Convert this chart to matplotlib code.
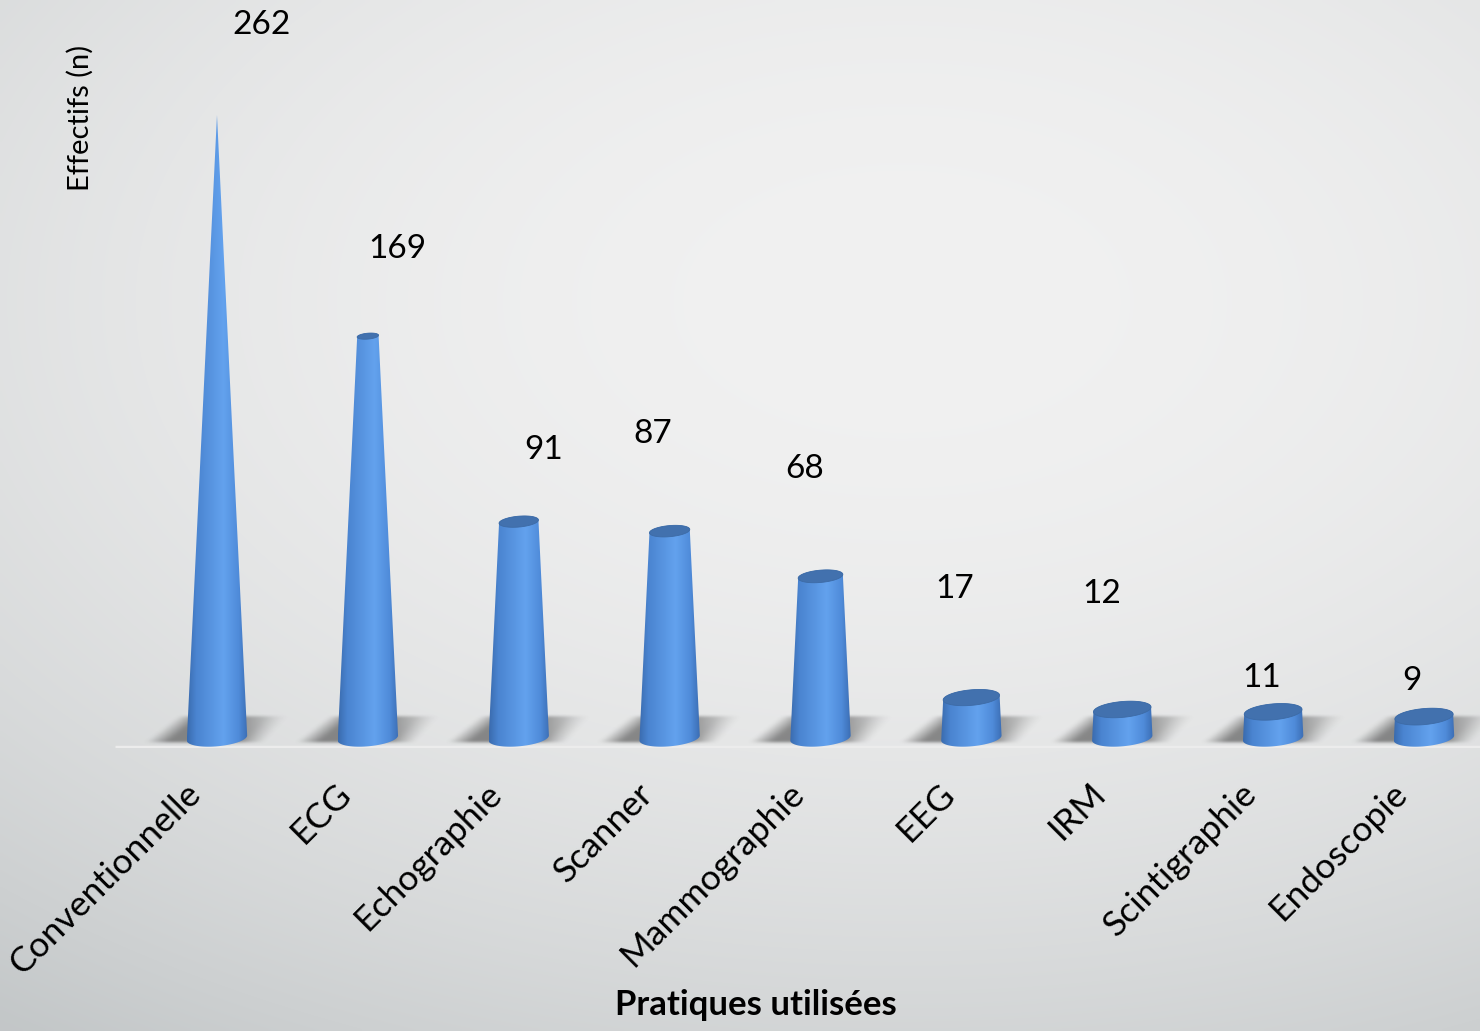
import matplotlib.pyplot as plt
import numpy as np
from matplotlib.colors import LinearSegmentedColormap
from matplotlib.patches import PathPatch, Polygon
from matplotlib.path import Path

plt.rcParams["font.family"] = ["Lato", "DejaVu Sans"]

# -------------------------------------------------------------------
#  Données
# -------------------------------------------------------------------
PRATIQUES = [
    "Conventionnelle", "ECG", "Echographie", "Scanner", "Mammographie",
    "EEG", "IRM", "Scintigraphie", "Endoscopie",
]
EFFECTIFS = [262, 169, 91, 87, 68, 17, 12, 11, 9]

# Décalage (pixels) des étiquettes de valeur par rapport au sommet du cône
LABEL_OFFSETS = [
    (45, 90), (30, 87), (25, 72), (-17, 97), (-16, 107),
    (-17, 109), (-21, 115), (-11, 34), (-12, 36),
]

W, H = 1480, 1031
fig = plt.figure(figsize=(W / 100, H / 100), dpi=100)

# Fond dégradé gris
bg = fig.add_axes([0, 0, 1, 1], zorder=-10)
yy, xx = np.mgrid[0:H:4, 0:W:4]
d = np.sqrt(((xx - 900) / 1500.0) ** 2 + ((yy - 300) / 900.0) ** 2)
t = np.clip(d ** 2, 0, 1)[..., None]
light = np.array([0.945, 0.945, 0.945])
dark = np.array([0.765, 0.78, 0.785])
bg.imshow(light * (1 - t) + dark * t, extent=[0, W, H, 0], aspect="auto",
          interpolation="bilinear")
bg.set_xlim(0, W)
bg.set_ylim(H, 0)
bg.axis("off")

# Axes principaux : 0 au pied des cônes (y=738 px)
PX_PER_UNIT = 623 / 262.0
SPACING = 150.9
left_px, right_px, base_px, bottom_px = 115, 1480, 738, 748
x0 = -(217 - left_px) / SPACING
x1 = 8 + (right_px - 1424) / SPACING
y0 = -(bottom_px - base_px) / PX_PER_UNIT
y1 = base_px / PX_PER_UNIT
ax = fig.add_axes([left_px / W, 1 - bottom_px / H,
                   (right_px - left_px) / W, bottom_px / H])
ax.set_xlim(x0, x1)
ax.set_ylim(y0, y1)
ax.patch.set_alpha(0)
for s in ax.spines.values():
    s.set_visible(False)
ax.set_xticks([])
ax.set_yticks([])

# Ligne de base claire
ax.plot([x0, x1], [y0 + 0.3, y0 + 0.3], color="#ececec", lw=2.5,
        solid_capstyle="butt", zorder=1)

cone_cmap = LinearSegmentedColormap.from_list("cone", [
    (0.0, "#3a6bae"), (0.15, "#4a84d0"), (0.6, "#63a2ee"),
    (0.85, "#4f8bd9"), (1.0, "#3b6db3"),
])
R = 0.20          # rayon de base (unités x)
B = 3.5           # demi-petit axe de l'ellipse de base (unités y)
SHEAR = 5.3       # inclinaison de la perspective (unités y par unité x)
HMAX = max(EFFECTIFS)


def box_blur(a, k, axis):
    kern = np.ones(k) / k
    return np.apply_along_axis(
        lambda r: np.convolve(r, kern, mode="same"), axis, a)


def draw_shadow(cx):
    ny, nx = 90, 240
    sx0, sx1, sy0, sy1 = cx - 0.6, cx + 0.75, -6.0, 13.0
    us = np.linspace(sx0 - cx, sx1 - cx, nx)
    ws = np.linspace(sy0, sy1, ny)
    U, Wg = np.meshgrid(us, ws)
    f = (Wg + 2.0) / 10.8
    lo = -0.40 + 0.22 * f
    hi = 0.24 + 0.16 * f
    m = ((Wg > -2.0) & (Wg < 8.8) & (U > lo) & (U < hi)).astype(float)
    m *= np.clip(1.0 - np.clip(U - 0.1, 0, None) / 0.38, 0, 1)
    m = box_blur(box_blur(m, 27, 1), 9, 1)
    m = box_blur(box_blur(m, 7, 0), 5, 0)
    img = np.zeros((ny, nx, 4))
    img[..., :3] = 0.30
    img[..., 3] = 0.62 * m
    ax.imshow(img, extent=[sx0, sx1, sy0, sy1], origin="lower",
              aspect="auto", interpolation="bilinear", zorder=2,
              clip_on=False)


def draw_cone(cx, v):
    k = 1 - v / HMAX
    rt, bt = R * k, B * k
    th = np.linspace(np.pi, 2 * np.pi, 40)
    bx = R * np.cos(th)
    bottom = np.column_stack([cx + bx, B * np.sin(th) + SHEAR * bx])
    th2 = np.linspace(0, np.pi, 40)
    tx = rt * np.cos(th2)
    top = np.column_stack([cx + tx, v + bt * np.sin(th2) + SHEAR * tx])
    verts = np.vstack([bottom, top, bottom[:1]])
    patch = PathPatch(Path(verts, closed=True), facecolor="none",
                      edgecolor="none", zorder=3)
    ax.add_patch(patch)
    grad = np.linspace(0, 1, 256)[None, :]
    im = ax.imshow(grad, cmap=cone_cmap,
                   extent=[cx - R, cx + R, -B - SHEAR * R - 1,
                           v + bt + SHEAR * R + 1],
                   aspect="auto", zorder=3)
    im.set_clip_path(patch)
    if rt > 0.01:
        th3 = np.linspace(0, 2 * np.pi, 80)
        ex = rt * np.cos(th3)
        ell = np.column_stack([cx + ex, v + bt * np.sin(th3) + SHEAR * ex])
        ax.add_patch(Polygon(ell, closed=True, facecolor="#4271ae",
                             edgecolor="#3d6ba6", lw=0.6, zorder=4))


for i, v in enumerate(EFFECTIFS):
    draw_shadow(i)
for i, v in enumerate(EFFECTIFS):
    draw_cone(i, v)
    dx, dy = LABEL_OFFSETS[i]
    ax.annotate(str(v), xy=(i, v), xytext=(dx, dy), textcoords="offset pixels",
                ha="center", va="center", fontsize=24, color="black",
                annotation_clip=False, zorder=6)
    ax.annotate(PRATIQUES[i], xy=(i, 0), xycoords=("data", "axes fraction"),
                xytext=(-33, -29), textcoords="offset pixels", rotation=45,
                rotation_mode="anchor", ha="right", va="top", fontsize=25.5,
                color="black", annotation_clip=False)

fig.text(80 / W, 1 - 118 / H, "Effectifs (n)", rotation=90, ha="center",
         va="center", fontsize=21, color="black")
fig.text(756 / W, 1 - 1005 / H, "Pratiques utilisées", ha="center",
         va="center", fontsize=25, fontweight="bold", color="black")

fig.savefig("out.png", dpi=100)
